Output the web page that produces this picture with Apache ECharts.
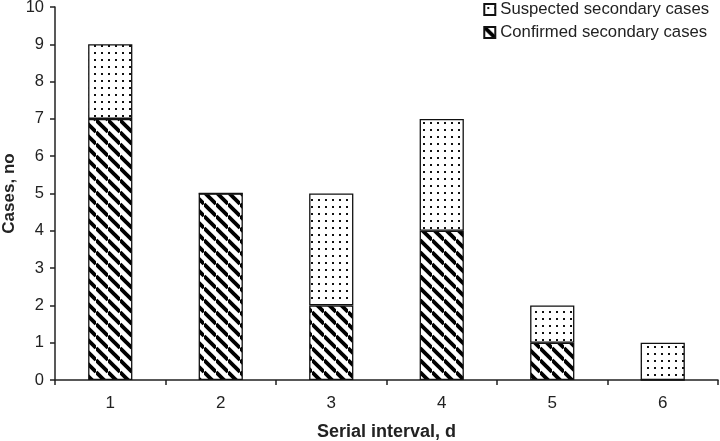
<!DOCTYPE html>
<html><head><meta charset="utf-8">
<script src="https://cdn.jsdelivr.net/npm/echarts@6/dist/echarts.min.js"></script>
<style>html,body{margin:0;padding:0;background:#fff}#c{width:720px;height:441px}</style>
</head><body><div id="c"></div>
<script>
var categories = ['1','2','3','4','5','6'];
var confirmed = [7,5,2,4,1,0];
var suspected = [2,0,3,3,1,1];
var yTicks = [0,1,2,3,4,5,6,7,8,9,10];

function hatch(){
  var s=12, c=document.createElement('canvas'); c.width=s; c.height=s;
  var g=c.getContext('2d'); g.fillStyle='#fff'; g.fillRect(0,0,s,s);
  g.strokeStyle='#000'; g.lineWidth=3.8;
  for(var k=-1;k<=1;k++){ g.beginPath(); g.moveTo(0,k*s); g.lineTo(s,s+k*s); g.stroke(); }
  return c;
}
function dots(){
  var c=document.createElement('canvas'); c.width=7; c.height=7;
  var g=c.getContext('2d'); g.fillStyle='#fff'; g.fillRect(0,0,7,7);
  g.fillStyle='#111';
  g.fillRect(3,3,2,2);
  return c;
}
var chart = echarts.init(document.getElementById('c'));
var font = 'Liberation Sans, Arial, sans-serif';
chart.setOption({
  animation:false,
  textStyle:{fontFamily:font},
  grid:{left:55,right:2,top:7,bottom:61,containLabel:false,outerBoundsMode:'none'},
  legend:{
    orient:'vertical', right:6, top:-4, itemWidth:11, itemHeight:11, itemGap:6, icon:'rect',
    data:['Suspected secondary cases','Confirmed secondary cases'],
    textStyle:{fontSize:16.7,color:'#222',fontFamily:font}
  },
  xAxis:{
    type:'category', data:categories,
    name:'Serial interval, d', nameLocation:'middle', nameGap:43, nameMoveOverlap:false,
    nameTextStyle:{fontSize:18,fontWeight:'bold',color:'#222'},
    axisLine:{lineStyle:{color:'#222',width:1.5}},
    axisTick:{show:true,length:5,lineStyle:{color:'#222',width:1.5}},
    axisLabel:{fontSize:17,color:'#222',margin:15}
  },
  yAxis:{
    type:'value', min:0, max:10, interval:1,
    name:'Cases, no', nameLocation:'middle', nameGap:37, nameMoveOverlap:false,
    nameTextStyle:{fontSize:17,fontWeight:'bold',color:'#222'},
    axisLine:{show:true,lineStyle:{color:'#222',width:1.5}},
    axisTick:{show:true,length:5,lineStyle:{color:'#222',width:1.5}},
    axisLabel:{fontSize:16.5,color:'#222',margin:11,formatter:function(v){return yTicks.indexOf(v)>=0?String(v):'';}},
    splitLine:{show:false}
  },
  series:[
    {name:'Confirmed secondary cases',type:'bar',stack:'a',barWidth:'40%',data:confirmed,
     itemStyle:{color:{image:hatch(),repeat:'repeat'},borderColor:'#111',borderWidth:1.3}},
    {name:'Suspected secondary cases',type:'bar',stack:'a',barWidth:'40%',data:suspected,
     itemStyle:{color:{image:dots(),repeat:'repeat'},borderColor:'#111',borderWidth:1.3}}
  ]
});
</script></body></html>
